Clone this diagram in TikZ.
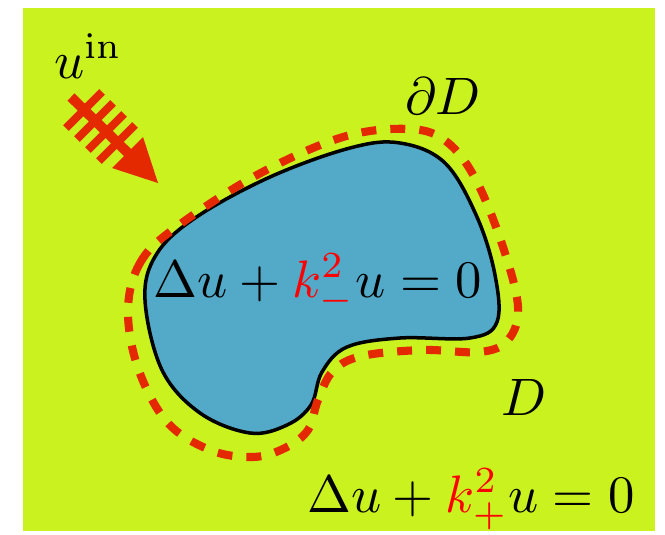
\documentclass[tikz,border=0pt]{standalone}
\usepackage{amsmath,amssymb}
\usetikzlibrary{positioning}
\definecolor{bggreen}{RGB}{201,242,31}
\definecolor{blobblue}{RGB}{82,170,200}
\definecolor{wavered}{RGB}{228,40,0}
\tikzset{
  eqtext/.style={scale=3, transform shape, inner sep=0pt, anchor=base},
  rim/.style={wavered, line width=4.6pt, dash pattern=on 8.5pt off 8pt},
}

\begin{document}
\begin{tikzpicture}[x=0.02cm, y=-0.02cm]
\useasboundingbox (0,0) rectangle (665,534);
\fill[bggreen] (23,8) rectangle (655,531);
% scatterer
\draw[line width=2pt, fill=blobblue] plot[smooth cycle, tension=0.6] coordinates {
  (145,300) (156,255) (195,218) (270,177) (350,148) (400,143) (445,163)
  (477,217) (495,275) (497,322) (470,338) (400,338) (347,347) (322,372)
  (311,405) (287,425) (250,433) (200,413) (162,370)};
% boundary
\draw[rim] plot[smooth cycle, tension=0.6] coordinates {
  (128,310) (140,263) (175,228) (257,175) (343,137) (410,129) (447,142)
  (476,180) (503,247) (518,307) (508,340) (480,352) (423,350) (362,356)
  (333,371) (318,400) (308,430) (285,448) (253,457) (210,450) (167,422)
  (138,368)};
% incident wave
\begin{scope}[wavered]
  \draw[line width=5.7pt] (71,97) -- (128,153);
  \foreach \c in {0,1,2,3}
    \draw[line width=4.5pt] ({84+11*\c-18},{110+11*\c+18}) -- ++(36,-36);
  \fill (158,183) -- (143,137) -- (112,168) -- cycle;
\end{scope}
\node[eqtext] (eqin) at (318,297) {$\Delta u+{\color{red}k_-^2}u=0$};
\node[eqtext] (eqout) at (471,512) {$\Delta u+{\color{red}k_+^2}u=0$};
\node[eqtext] (dD) at (443,114) {$\partial D$};
\node[eqtext] (D) at (524,415) {$D$};
\node[eqtext, anchor=base west] (uin) at (53,78) {$u^{\mathrm{in}}$};
\end{tikzpicture}
\end{document}
